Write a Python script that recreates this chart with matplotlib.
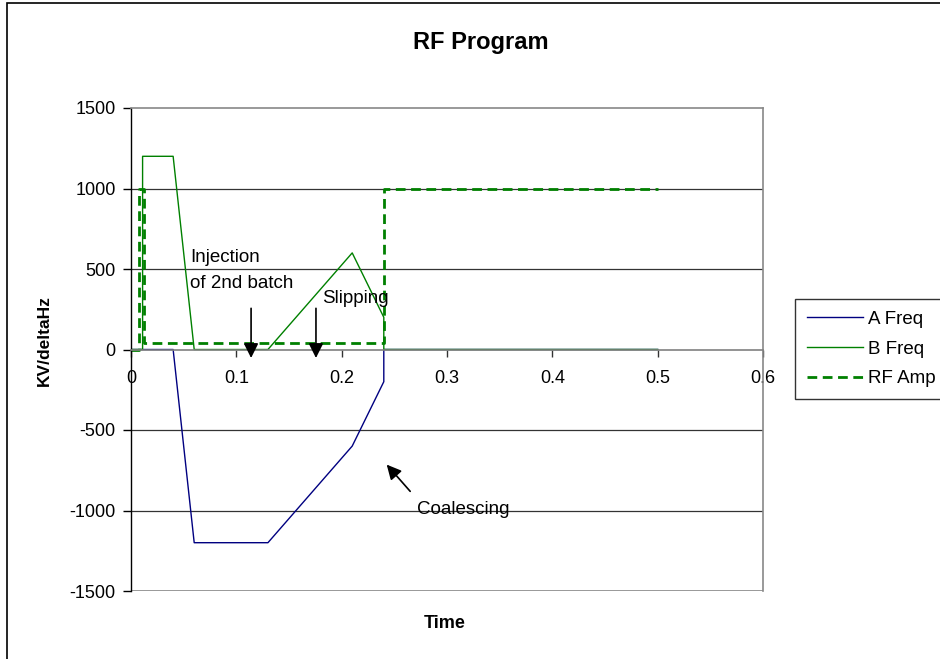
import matplotlib.pyplot as plt
from matplotlib.patches import Rectangle

plt.rcParams["font.family"] = ["Liberation Sans", "DejaVu Sans"]
plt.rcParams["axes.unicode_minus"] = False

# series
time_a = [0, 0.04, 0.06, 0.13, 0.21, 0.24, 0.24, 0.5]
a_freq = [0, 0, -1200, -1200, -600, -200, 0, 0]

time_b = [0, 0.011, 0.011, 0.04, 0.06, 0.13, 0.21, 0.24, 0.24, 0.5]
b_freq = [0, 0, 1200, 1200, 0, 0, 600, 200, 0, 0]

time_rf = [0, 0.008, 0.008, 0.012, 0.012, 0.24, 0.24, 0.5]
rf_amp = [0, 0, 1000, 1000, 40, 40, 1000, 1000]

x_ticks = [0, 0.1, 0.2, 0.3, 0.4, 0.5, 0.6]
x_tick_labels = ["0", "0.1", "0.2", "0.3", "0.4", "0.5", "0.6"]
y_ticks = [-1500, -1000, -500, 0, 500, 1000, 1500]


def main():
    fig = plt.figure(figsize=(9.4, 6.59), dpi=100)
    ax = fig.add_axes([131 / 940, 1 - 591 / 659, (763 - 131) / 940, (591 - 108) / 659])

    # outer chart border
    fig.patches.append(Rectangle((7.5 / 940, -0.1), 1.2, 1.1 - 3 / 659,
                                 transform=fig.transFigure, fill=False,
                                 edgecolor="black", lw=1.2))

    for y in [-1000, -500, 500, 1000]:
        ax.axhline(y, color="#333333", lw=0.9, zorder=0)
    ax.axhline(-1500, color="#888888", lw=1.2, zorder=0)

    ax.plot(time_a, a_freq, color="#000080", lw=1, label="A Freq")
    ax.plot(time_b, b_freq, color="#008000", lw=1, label="B Freq")
    ax.plot(time_rf, rf_amp, color="#008000", lw=2, linestyle=(0, (3.5, 2)), label="RF Amp")

    ax.set_xlim(0, 0.6)
    ax.set_ylim(-1500, 1500)
    ax.set_xticks(x_ticks)
    ax.set_xticklabels(x_tick_labels)
    ax.set_yticks(y_ticks)

    ax.spines["bottom"].set_position(("data", 0))
    ax.spines["bottom"].set_color("#808080")
    ax.spines["bottom"].set_linewidth(1.2)
    ax.spines["top"].set_color("#888888")
    ax.spines["top"].set_linewidth(1.2)
    ax.spines["right"].set_color("#888888")
    ax.spines["right"].set_linewidth(1.2)
    ax.spines["left"].set_color("black")
    ax.spines["left"].set_linewidth(1)

    ax.tick_params(axis="x", direction="out", length=5, width=1, color="#333333",
                   labelsize=13, pad=10)
    ax.tick_params(axis="y", direction="out", length=6, width=1, color="black",
                   labelsize=13, pad=5)

    # annotations
    arrow = dict(arrowstyle="-|>", color="black", lw=1.2, mutation_scale=22)
    ax.annotate("", xy=(0.114, -70), xytext=(0.114, 273), arrowprops=arrow)
    ax.annotate("", xy=(0.1756, -70), xytext=(0.1756, 273), arrowprops=arrow)
    ax.annotate("", xy=(0.241, -702), xytext=(0.2668, -894), arrowprops=arrow)

    ax.text(0.056, 571, "Injection", fontsize=13.5, va="center", ha="left")
    ax.text(0.056, 410, "of 2nd batch", fontsize=13.5, va="center", ha="left")
    ax.text(0.181, 317, "Slipping", fontsize=13.5, va="center", ha="left")
    ax.text(0.2715, -994, "Coalescing", fontsize=13.5, va="center", ha="left")

    fig.text(481 / 940, 1 - 43 / 659, "RF Program", fontsize=17, fontweight="bold",
             ha="center", va="center")
    fig.text(445 / 940, 1 - 624 / 659, "Time", fontsize=13, fontweight="bold",
             ha="center", va="center")
    fig.text(44 / 940, 1 - 341 / 659, "KV/deltaHz", fontsize=12.5, fontweight="bold",
             ha="center", va="center", rotation=90)

    leg = ax.legend(loc="upper left", bbox_to_anchor=(795 / 940, 1 - 299 / 659),
                    bbox_transform=fig.transFigure, fontsize=13.5, frameon=True,
                    fancybox=False, handlelength=3.0, handletextpad=0.3,
                    labelspacing=0.68, borderpad=0.62, borderaxespad=0)
    leg.get_frame().set_edgecolor("black")
    leg.get_frame().set_linewidth(1)

    fig.savefig("out.png", dpi=100)
    plt.close(fig)


if __name__ == "__main__":
    main()
